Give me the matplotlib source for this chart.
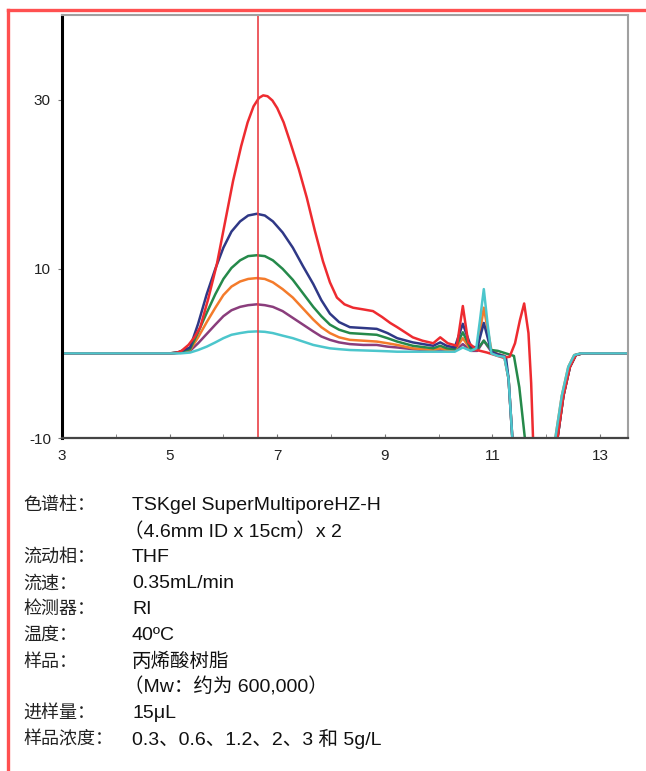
import matplotlib.pyplot as plt
from matplotlib.lines import Line2D

# retention time (min) and detector response
t_red = [3.0, 5.0, 5.12, 5.22, 5.35, 5.46, 5.57, 5.72, 5.88, 6.03, 6.18, 6.33, 6.45, 6.56, 6.66, 6.74,
         6.82, 6.91, 7.0, 7.12, 7.24, 7.4, 7.55, 7.7, 7.85, 7.98, 8.11, 8.25, 8.41, 8.6, 8.78, 8.95,
         9.1, 9.23, 9.4, 9.52, 9.7, 9.9, 10.03, 10.17, 10.34, 10.45, 10.55, 10.71, 10.9, 11.05, 11.2,
         11.32, 11.42, 11.51, 11.59, 11.67, 11.72, 11.76, 11.9, 12.1, 12.21, 12.32, 12.44, 12.55,
         12.67, 13.5]
v_red = [0, 0, 0.05, 0.3, 1.0, 1.9, 3.1, 6.5, 10.6, 15.5, 20.4, 24.5, 27.3, 29.2, 30.2, 30.5,
         30.4, 29.9, 29.0, 27.3, 25.0, 21.8, 18.4, 14.5, 10.9, 8.4, 6.6, 5.8, 5.4, 5.2, 5.0, 4.3,
         3.6, 3.1, 2.4, 1.9, 1.5, 1.2, 1.9, 1.2, 0.9, 5.6, 1.3, 0.4, 0.1, -0.2, -0.5,
         -0.4, 1.2, 3.9, 5.9, 2.4, -3.5, -11, -30, -25, -10, -5, -1.6, -0.2,
         0, 0]

t_blue = [3.0, 5.0, 5.15, 5.38, 5.53, 5.69, 5.85, 6.0, 6.15, 6.31, 6.46, 6.62, 6.77, 6.92, 7.1,
          7.29, 7.48, 7.67, 7.82, 7.98, 8.15, 8.35, 8.6, 8.85, 9.05, 9.23, 9.52, 9.9, 10.03, 10.15,
          10.3, 10.45, 10.6, 10.72, 10.84, 10.98, 11.1, 11.25, 11.3, 11.38, 11.6, 12.1, 12.21,
          12.32, 12.44, 12.55, 12.67, 13.5]
v_blue = [0, 0, 0.1, 0.7, 3.5, 7.0, 10.0, 12.5, 14.4, 15.6, 16.3, 16.5, 16.3, 15.6, 14.3,
          12.5, 10.3, 8.2, 6.3, 4.7, 3.7, 3.1, 3.0, 2.9, 2.4, 1.8, 1.3, 0.9, 1.3, 0.9,
          0.7, 3.5, 0.8, 0.7, 3.6, 0.2, -0.1, -0.4, -3, -11, -30, -25, -10,
          -5, -1.6, -0.2, 0, 0]

t_green = [3.0, 5.0, 5.15, 5.38, 5.53, 5.69, 5.85, 6.0, 6.15, 6.31, 6.46, 6.62, 6.77, 6.92, 7.1,
           7.29, 7.48, 7.67, 7.82, 7.98, 8.15, 8.35, 8.6, 8.85, 9.05, 9.23, 9.52, 9.9, 10.03, 10.15,
           10.3, 10.45, 10.6, 10.72, 10.84, 10.98, 11.1, 11.25, 11.4, 11.5, 11.62, 11.8, 12.1, 12.21,
           12.32, 12.44, 12.55, 12.67, 13.5]
v_green = [0, 0, 0.1, 0.5, 2.5, 4.8, 7.0, 8.8, 10.1, 11.0, 11.5, 11.6, 11.5, 11.0, 10.0,
           8.7, 7.1, 5.5, 4.4, 3.4, 2.8, 2.4, 2.3, 2.2, 1.8, 1.4, 0.9, 0.6, 0.9, 0.6,
           0.5, 2.5, 0.5, 0.5, 1.5, 0.4, 0.3, 0.0, -0.3, -4, -11, -30, -25, -10,
           -5, -1.6, -0.2, 0, 0]

t_orange = [3.0, 5.0, 5.15, 5.38, 5.53, 5.69, 5.85, 6.0, 6.15, 6.31, 6.46, 6.62, 6.77, 6.92, 7.1,
            7.29, 7.48, 7.67, 7.82, 7.98, 8.15, 8.35, 8.6, 8.85, 9.05, 9.23, 9.52, 9.9, 10.03, 10.15,
            10.3, 10.45, 10.6, 10.72, 10.84, 10.98, 11.1, 11.22, 11.3, 11.38, 11.6, 12.05, 12.17,
            12.29, 12.41, 12.52, 12.64, 13.5]
v_orange = [0, 0, 0.1, 0.4, 1.9, 3.7, 5.4, 6.9, 7.9, 8.5, 8.8, 8.9, 8.8, 8.4, 7.6,
            6.6, 5.3, 4.0, 3.1, 2.4, 1.9, 1.6, 1.5, 1.4, 1.2, 1.0, 0.6, 0.4, 0.6, 0.4,
            0.4, 1.8, 0.4, 0.5, 5.4, 0.4, -0.1, -0.3, -3, -11, -30, -25, -10,
            -5, -1.6, -0.2, 0, 0]

t_purple = [3.0, 5.0, 5.15, 5.38, 5.53, 5.69, 5.85, 6.0, 6.15, 6.31, 6.46, 6.62, 6.77, 6.92, 7.1,
            7.29, 7.48, 7.67, 7.82, 7.98, 8.15, 8.35, 8.6, 8.85, 9.05, 9.23, 9.52, 9.9, 10.03, 10.15,
            10.3, 10.45, 10.6, 10.72, 10.84, 10.98, 11.1, 11.22, 11.3, 11.38, 11.6, 12.1, 12.21,
            12.32, 12.44, 12.55, 12.67, 13.5]
v_purple = [0, 0, 0.05, 0.3, 1.2, 2.3, 3.4, 4.4, 5.1, 5.5, 5.7, 5.8, 5.7, 5.5, 5.0,
            4.2, 3.4, 2.6, 2.0, 1.6, 1.3, 1.1, 1.0, 1.0, 0.8, 0.7, 0.5, 0.3, 0.4, 0.3,
            0.3, 1.1, 0.3, 0.3, 1.5, 0.2, -0.1, -0.3, -3, -11, -30, -25, -10,
            -5, -1.6, -0.2, 0, 0]

t_cyan = [3.0, 5.0, 5.2, 5.38, 5.53, 5.69, 5.85, 6.0, 6.15, 6.31, 6.46, 6.62, 6.77, 6.92, 7.1,
          7.29, 7.48, 7.67, 7.82, 7.98, 8.15, 8.35, 8.6, 8.85, 9.05, 9.23, 9.52, 9.9, 10.03, 10.15,
          10.3, 10.45, 10.6, 10.7, 10.77, 10.84, 10.91, 10.98, 11.1, 11.22, 11.3, 11.38, 11.6, 12.05,
          12.17, 12.29, 12.41, 12.52, 12.64, 13.5]
v_cyan = [0, 0, 0.0, 0.1, 0.4, 0.8, 1.3, 1.8, 2.2, 2.4, 2.55, 2.6, 2.55, 2.4, 2.1,
          1.8, 1.4, 1.0, 0.8, 0.6, 0.5, 0.4, 0.35, 0.3, 0.25, 0.2, 0.2, 0.2, 0.2, 0.2,
          0.2, 0.7, 0.3, 0.6, 4.0, 7.6, 3.5, 0.0, -0.3, -0.4, -3, -11, -30, -25,
          -10, -5, -1.6, -0.2, 0, 0]

marker_time = 6.64

x_ticks = [3, 5, 7, 9, 11, 13]
y_ticks = [30, 10, -10]

info_labels = ['色谱柱：', '', '流动相：', '流速：', '检测器：', '温度：', '样品：', '', '进样量：', '样品浓度：']
info_values = ['TSKgel SuperMultiporeHZ-H', '（4.6mm ID x 15cm）x 2', 'THF', '0.35mL/min', 'RI',
               '40ºC', '丙烯酸树脂', '（Mw：约为 600,000）', '15μL', '0.3、0.6、1.2、2、3 和 5g/L']

plt.rcParams['font.family'] = ['Liberation Sans', 'Noto Sans CJK SC', 'DejaVu Sans']
plt.rcParams['axes.unicode_minus'] = False

fig = plt.figure(figsize=(6.46, 7.71), dpi=100)
ax = fig.add_axes([62 / 646, 1 - 438 / 771, (628 - 62) / 646, (438 - 15) / 771])

lw = 1.8
ax.plot(t_purple, v_purple, color='#8A3D7C', lw=lw)
ax.plot(t_orange, v_orange, color='#F47B2B', lw=lw)
ax.plot(t_green, v_green, color='#25894A', lw=lw)
ax.plot(t_blue, v_blue, color='#2F3886', lw=lw)
ax.plot(t_red, v_red, color='#EE2B30', lw=lw)
ax.plot(t_cyan, v_cyan, color='#4CC6CC', lw=lw)
ax.axvline(marker_time, color='#EA3F45', lw=1.2)

ax.set_xlim(3, 13.52)
ax.set_ylim(-10, 40)
ax.set_xticks(x_ticks)
ax.set_xticks(range(3, 14), minor=True)
ax.set_yticks(y_ticks)
ax.tick_params(axis='x', which='both', direction='in', length=3, color='#777777',
               labelsize=11, pad=8, labelcolor='#222222')
ax.tick_params(axis='y', direction='out', length=3, color='#777777',
               labelsize=11, pad=5, labelcolor='#222222')

ax.spines['left'].set_color('black')
ax.spines['left'].set_linewidth(2.2)
ax.spines['bottom'].set_color('#444444')
ax.spines['bottom'].set_linewidth(1.6)
for s in ['top', 'right']:
    ax.spines[s].set_color('#A0A0A0')
    ax.spines[s].set_linewidth(1.5)

# red frame around the figure block
fig.add_artist(Line2D([8 / 646, 8 / 646], [0, 1 - 10 / 771], color='#FF5050', lw=2.4))
fig.add_artist(Line2D([8 / 646, 1], [1 - 10 / 771, 1 - 10 / 771], color='#FF5050', lw=2.4))

row_y = [505, 532, 557, 584, 609, 635, 662, 687, 713, 739]
for lab, val, y in zip(info_labels, info_values, row_y):
    yy = 1 - y / 771
    if lab:
        fig.text(23 / 646, yy, lab, fontsize=13, color='#222222', va='center',
                 family=['Noto Sans CJK SC'], fontweight='light')
    x0 = 124 / 646 if val.startswith('（') else 132 / 646
    fig.text(x0, yy, val, fontsize=14, color='#111111', va='center')

fig.savefig('out.png', dpi=100)
